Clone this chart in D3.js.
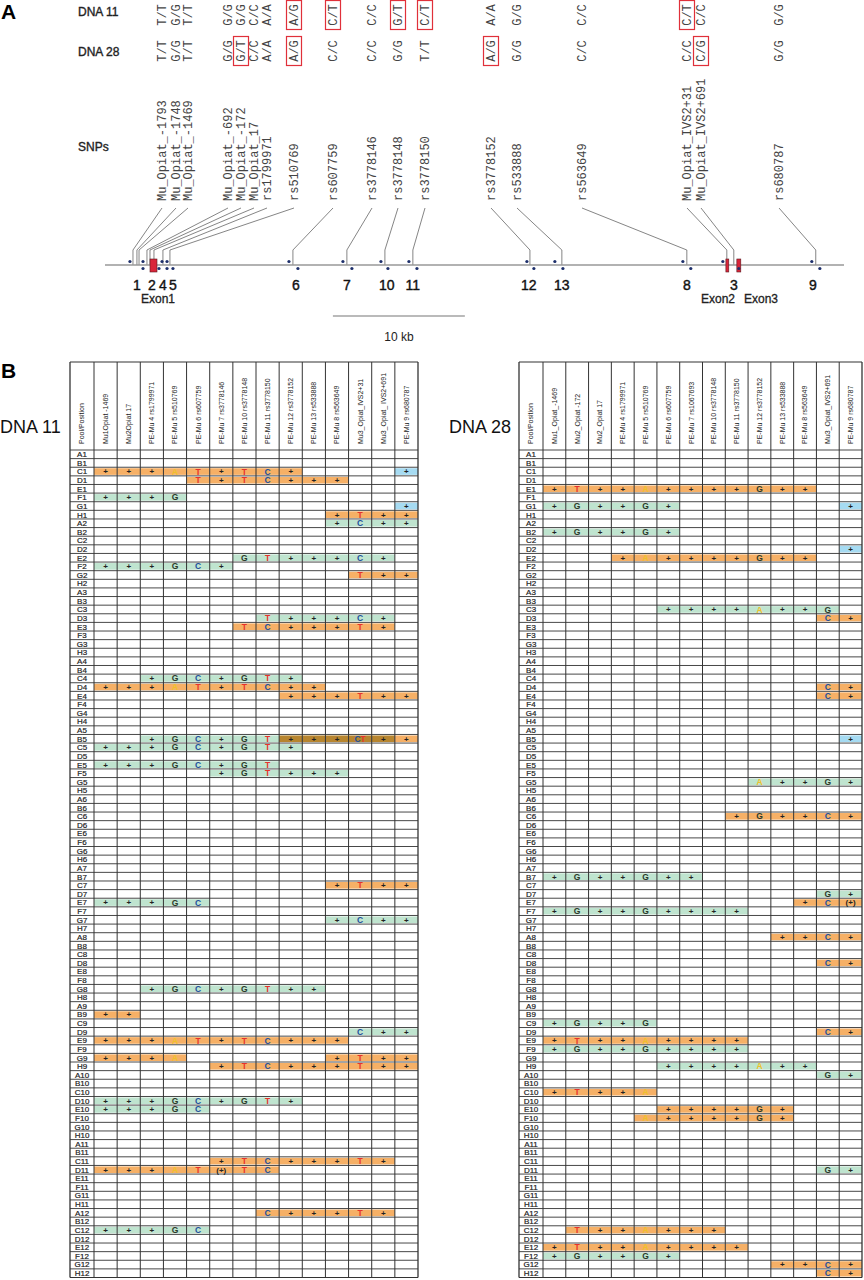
<!DOCTYPE html>
<html>
<head>
<meta charset="utf-8">
<script src="https://cdn.jsdelivr.net/npm/d3@7"></script>
<style>
  body { margin: 0; background: #fff; }
  text { font-family: "Liberation Sans", Arial, sans-serif; }
  .mono { font-family: "Liberation Mono", "Courier New", monospace; }
</style>
</head>
<body>
<script>
// ---- panel A data ----
const snpNames = ["Mu_Opiat_-1793", "Mu_Opiat_-1748", "Mu_Opiat_-1469", "Mu_Opiat_-692",
  "Mu_Opiat_-172", "Mu_Opiat_17", "rs1799971", "rs510769", "rs607759", "rs3778146",
  "rs3778148", "rs3778150", "rs3778152", "rs533888", "rs563649",
  "Mu_Opiat_IVS2+31", "Mu_Opiat_IVS2+691", "rs680787"];
// position along the gene, kb
const snpKb = [2.12, 2.42, 2.58, 3.18, 3.41, 3.71, 4.39, 4.92, 14.24, 18.33,
  21.21, 23.33, 32.2, 34.62, 44.09, 47.12, 47.65, 53.86];
const geno11 = ["T/T", "G/G", "T/T", "G/G", "G/G", "C/C", "A/A", "A/G", "C/T", "C/C",
  "G/T", "C/T", "A/A", "G/G", "C/C", "C/T", "C/C", "G/G"];
const geno28 = ["T/T", "G/G", "T/T", "G/G", "G/T", "C/C", "A/A", "A/G", "C/C", "C/C",
  "G/G", "T/T", "A/G", "G/G", "C/C", "C/C", "C/G", "G/G"];

const ampliconNames = ["1", "2", "4", "5", "6", "7", "10", "11", "12", "13", "8", "3", "9"];
const ampliconKb = [2.42, 3.56, 4.39, 5.15, 14.47, 18.33, 21.36, 23.33, 32.12, 34.62, 44.09, 47.65, 53.64];
const primerFwdKb = [1.89, 2.88, 4.32, 4.7, 13.94, 18.03, 20.91, 23.03, 31.97, 34.09, 43.79, 46.82, 53.56];
const primerRevKb = [2.88, 4.09, 4.7, 5.15, 14.62, 18.71, 21.44, 23.64, 32.5, 34.7, 44.39, 48.03, 54.17];

const exonNames = ["Exon1", "Exon2", "Exon3"];
const exonStartKb = [3.41, 47.05, 47.88];
const exonEndKb = [3.94, 47.27, 48.18];

// ---- panel B data ----
const cols11 = ["Mu1Opiat -1469", "Mu2Opiat 17", "PE-Mu 4 rs1799971", "PE-Mu 5 rs510769",
  "PE-Mu 6 rs607759", "PE-Mu 7 rs3778146", "PE-Mu 10 rs3778148", "PE-Mu 11 rs3778150",
  "PE-Mu 12 rs3778152", "PE-Mu 13 rs533888", "PE-Mu 8 rs563649", "Mu3_Opiat_IVS2+31",
  "Mu3_Opiat_ IVS2+691", "PE-Mu 9 rs680787"];
const cols28 = ["Mu1_Opiat_-1469", "Mu2_Opiat -172", "Mu2_Opiat 17", "PE-Mu 4 rs1799971",
  "PE-Mu 5 rs510769", "PE-Mu 6 rs607759", "PE-Mu 7 rs1067693", "PE-Mu 10 rs3778148",
  "PE-Mu 11 rs3778150", "PE-Mu 12 rs3778152", "PE-Mu 13 rs533888", "PE-Mu 8 rs563649",
  "Mu3_Opiat_IVS2+691", "PE-Mu 9 rs680787"];

// pool, cell colours (o orange, g green, b blue, d brown), cell marks (p = "(+)", x = "CT")
const hits11 = [
  ["C1", "ooooooooo....b", "+++AT+TC+....+"],
  ["D1", "....ooooooo...", "....T+TC+++..."],
  ["F1", "gggg..........", "+++G.........."],
  ["G1", ".............b", ".............+"],
  ["H1", "..........oooo", "..........+T++"],
  ["A2", "..........gggg", "..........+C++"],
  ["E2", "......ggggggg.", "......GT+++C+."],
  ["F2", "gggggg........", "+++GC+........"],
  ["G2", "...........ooo", "...........T++"],
  ["D3", ".......gggggg.", ".......T+++C+."],
  ["E3", "......ooooooo.", "......TC+++T+."],
  ["C4", "..ggggggg.....", "..+GC+GT+....."],
  ["D4", "oooooooooo....", "+++AT+TC++...."],
  ["E4", "........oooooo", "........+++T++"],
  ["B5", "..ggggggdddddo", "..+GC+GT+++x++"],
  ["C5", "ggggggggg.....", "+++GC+GT+....."],
  ["E5", "gggggggg......", "+++GC+GT......"],
  ["F5", ".....gggggg...", ".....+GT+++..."],
  ["C7", "..........oooo", "..........+T++"],
  ["E7", "ggggg.........", "+++GC........."],
  ["G7", "..........gggg", "..........+C++"],
  ["G8", "..gggggggg....", "..+GC+GT++...."],
  ["B9", "oo............", "++............"],
  ["D9", "...........ggg", "...........C++"],
  ["E9", "ooooooooooo...", "+++AT+TC+++..."],
  ["G9", "oooo......oooo", "+++A......+T++"],
  ["H9", ".....ooooooooo", ".....+TC+++T++"],
  ["D10", "ggggggggg.....", "+++GC+GT+....."],
  ["E10", "ggggg.........", "+++GC........."],
  ["C11", ".....oooooooo.", ".....+TC+++T+."],
  ["D11", "oooooooo......", "+++ATpTC......"],
  ["A12", ".......oooooo.", ".......C+++T+."],
  ["C12", "ggggg.........", "+++GC........."]
];
const hits28 = [
  ["E1", "oooooooooooo..", "+T++A++++G++.."],
  ["G1", "gggggg.......b", "+G++G+.......+"],
  ["B2", "gggggg........", "+G++G+........"],
  ["D2", ".............b", ".............+"],
  ["E2", "...ooooooooo..", "...+A++++G++.."],
  ["C3", ".....gggggggg.", ".....++++A++G."],
  ["D3", "............oo", "............C+"],
  ["D4", "............oo", "............C+"],
  ["E4", "............oo", "............C+"],
  ["B5", ".............b", ".............+"],
  ["G5", ".........ggggg", ".........A++G+"],
  ["C6", "........oooooo", "........+G++C+"],
  ["B7", "ggggggg.......", "+G++G++......."],
  ["D7", "............gg", "............G+"],
  ["E7", "...........ooo", "...........+Cp"],
  ["F7", "ggggggggg.....", "+G++G++++....."],
  ["A8", "..........oooo", "..........++C+"],
  ["D8", "............oo", "............C+"],
  ["C9", "ggggg.........", "+G++G........."],
  ["D9", "............oo", "............C+"],
  ["E9", "ooooooooo.....", "+T++A++++....."],
  ["F9", "ggggggggg.....", "+G++G++++....."],
  ["H9", ".....ggggggg..", ".....++++A++.."],
  ["A10", "............gg", "............G+"],
  ["C10", "ooooo.........", "+T++A........."],
  ["E10", ".....oooooo...", ".....++++G+..."],
  ["F10", "....ooooooo...", "....A++++G+..."],
  ["D11", "............gg", "............G+"],
  ["C12", ".ooooooo......", ".T++A+++......"],
  ["E12", "ooooooooo.....", "+T++A++++....."],
  ["F12", "gggggg........", "+G++G+........"],
  ["G12", "..........oooo", "..........++C+"],
  ["H12", "............oo", "............C+"]
];

const poolRows = [];
for (let n = 1; n <= 12; n++) for (const l of "ABCDEFGH") poolRows.push(l + n);

// ---- drawing ----
const W = 864, H = 1280;
const svg = d3.select("body").append("svg").attr("width", W).attr("height", H);

// panel letters
svg.append("text").attr("x", 1).attr("y", 19).attr("font-size", 21).attr("font-weight", "bold").text("A");
svg.append("text").attr("x", 1).attr("y", 378).attr("font-size", 21).attr("font-weight", "bold").text("B");

const A = svg.append("g");
const x = d3.scaleLinear().domain([0, 56]).range([105, 844]);
const labelX = [162, 176, 188, 228, 241, 254, 267, 294, 333, 372, 398, 425, 491, 517, 582, 687, 701, 779];

[["DNA 11", 16], ["DNA 28", 56], ["SNPs", 151]].forEach(([t, y]) => {
  A.append("text").attr("x", 78).attr("y", y).attr("font-size", 12).attr("fill", "#222")
    .attr("stroke", "#222").attr("stroke-width", 0.35).text(t);
});

function genoRow(genos, cy) {
  const g = A.append("g");
  genos.forEach((d, i) => {
    if (d[0] !== d[2]) {
      g.append("rect").attr("x", labelX[i] - 7.5).attr("y", cy - 14.5)
        .attr("width", 15).attr("height", 29)
        .attr("fill", "none").attr("stroke", "#e0303a").attr("stroke-width", 1.2);
    }
    g.append("text").attr("class", "mono")
      .attr("transform", `translate(${labelX[i]},${cy}) rotate(-90)`)
      .attr("text-anchor", "middle").attr("dy", "0.35em")
      .attr("font-size", 12).attr("fill", "#444").text(d);
  });
}
genoRow(geno11, 15);
genoRow(geno28, 51);

// SNP labels and leader lines
snpNames.forEach((d, i) => {
  A.append("text").attr("class", "mono")
    .attr("transform", `translate(${labelX[i]},201) rotate(-90)`)
    .attr("dy", "0.35em").attr("font-size", 12).attr("fill", "#444").text(d);
  A.append("path")
    .attr("d", `M${labelX[i]},208 L${x(snpKb[i])},250 L${x(snpKb[i])},265`)
    .attr("fill", "none").attr("stroke", "#666").attr("stroke-width", 0.8);
});

// gene line
A.append("line").attr("x1", x(0)).attr("x2", x(56)).attr("y1", 265).attr("y2", 265)
  .attr("stroke", "#999").attr("stroke-width", 1.3);

// exons
exonNames.forEach((d, i) => {
  A.append("rect").attr("x", x(exonStartKb[i])).attr("y", 259)
    .attr("width", x(exonEndKb[i]) - x(exonStartKb[i])).attr("height", 13)
    .attr("fill", "#d9253a").attr("stroke", "#5a1a20").attr("stroke-width", 0.6);
});
const exonLabelX = [158, 718, 761];
exonNames.forEach((d, i) => {
  A.append("text").attr("x", exonLabelX[i]).attr("y", 303).attr("text-anchor", "middle")
    .attr("font-size", 12).attr("fill", "#222").attr("stroke", "#222").attr("stroke-width", 0.3).text(d);
});

// primers
primerFwdKb.forEach(k => {
  A.append("circle").attr("cx", x(k)).attr("cy", 261.5).attr("r", 1.6).attr("fill", "#1d2f6b");
});
primerRevKb.forEach(k => {
  A.append("circle").attr("cx", x(k)).attr("cy", 268.5).attr("r", 1.6).attr("fill", "#1d2f6b");
});

// amplicon numbers
ampliconNames.forEach((d, i) => {
  A.append("text").attr("x", x(ampliconKb[i])).attr("y", 290).attr("text-anchor", "middle")
    .attr("font-size", 14).attr("fill", "#111").attr("stroke", "#111").attr("stroke-width", 0.4).text(d);
});

// scale bar
A.append("line").attr("x1", x(17.27)).attr("x2", x(27.27)).attr("y1", 316).attr("y2", 316)
  .attr("stroke", "#777").attr("stroke-width", 1.2);
A.append("text").attr("x", (x(17.27) + x(27.27)) / 2).attr("y", 341).attr("text-anchor", "middle")
  .attr("font-size", 12).attr("fill", "#222").text("10 kb");

// ---- panel B tables ----
const letterColor = { "+": "#222", T: "#e8322b", C: "#1d4f9c", G: "#2b3a2b", A: "#efc12a", p: "#222" };
const fillColor = { o: "#f6b066", g: "#bfe4cf", b: "#a6dbf2", d: "#b7852f" };

function drawTable(x0, right, cols, hits, title, titleX) {
  const top = 362, headBottom = 450, bottom = 1277.5, poolW = 24;
  const g = svg.append("g");
  const xc = d3.scaleBand().domain(cols).range([x0 + poolW, right]);
  const y = d3.scaleBand().domain(poolRows).range([headBottom, bottom]);

  svg.append("text").attr("x", titleX).attr("y", 433).attr("font-size", 18).attr("fill", "#111").text(title);

  // filled cells
  hits.forEach(([pool, fill, marks]) => {
    for (let j = 0; j < cols.length; j++) {
      if (fill[j] === ".") continue;
      g.append("rect").attr("x", xc(cols[j])).attr("y", y(pool) + 1)
        .attr("width", xc.bandwidth()).attr("height", y.bandwidth() - 2)
        .attr("fill", fillColor[fill[j]]);
    }
  });

  // grid
  const grid = g.append("g").attr("stroke", "#333");
  poolRows.forEach(r => {
    grid.append("line").attr("x1", x0).attr("x2", right).attr("y1", y(r)).attr("y2", y(r))
      .attr("stroke-width", 0.9);
  });
  grid.append("line").attr("x1", x0).attr("x2", right).attr("y1", top).attr("y2", top).attr("stroke-width", 1.2);
  grid.append("line").attr("x1", x0).attr("x2", right).attr("y1", bottom).attr("y2", bottom).attr("stroke-width", 1.2);
  const vx = [x0, ...cols.map(c => xc(c)), right];
  vx.forEach((v, i) => {
    grid.append("line").attr("x1", v).attr("x2", v).attr("y1", top).attr("y2", bottom)
      .attr("stroke-width", i === 0 || i === vx.length - 1 ? 1.3 : 1);
  });

  // headers
  const head = [["Pool/Position", x0 + poolW / 2], ...cols.map(c => [c, xc(c) + xc.bandwidth() / 2])];
  head.forEach(([t, cx]) => {
    g.append("text").attr("transform", `translate(${cx},444) rotate(-90)`)
      .attr("dy", "0.35em").attr("font-size", 7).attr("fill", "#222").text(t);
  });

  // row labels
  poolRows.forEach(r => {
    g.append("text").attr("x", x0 + poolW / 2).attr("y", y(r) + y.bandwidth() / 2)
      .attr("dy", "0.36em").attr("text-anchor", "middle").attr("font-size", 8)
      .attr("fill", "#222").attr("stroke", "#222").attr("stroke-width", 0.2).text(r);
  });

  // marks
  hits.forEach(([pool, fill, marks]) => {
    for (let j = 0; j < cols.length; j++) {
      const m = marks[j];
      if (m === ".") continue;
      const t = g.append("text").attr("x", xc(cols[j]) + xc.bandwidth() / 2)
        .attr("y", y(pool) + y.bandwidth() / 2).attr("dy", "0.36em")
        .attr("text-anchor", "middle").attr("font-size", m === "+" || m === "p" ? 8 : 8.5)
        .attr("font-weight", "bold");
      if (m === "x") {
        t.append("tspan").attr("fill", letterColor.C).text("C");
        t.append("tspan").attr("fill", letterColor.T).text("T");
      } else {
        t.attr("fill", letterColor[m]).text(m === "p" ? "(+)" : m);
      }
    }
  });
}

drawTable(70, 418, cols11, hits11, "DNA 11", 0);
drawTable(519, 862, cols28, hits28, "DNA 28", 449);
</script>
</body>
</html>
